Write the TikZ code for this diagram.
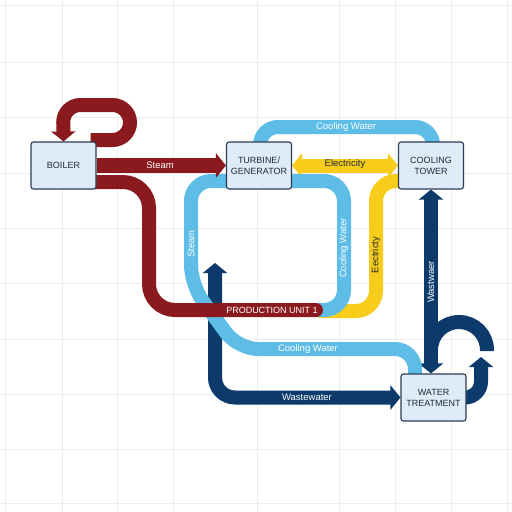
\documentclass[tikz,border=0pt]{standalone}
\usepackage{fontspec}
\setmainfont{Liberation Sans}
\usetikzlibrary{arrows.meta,calc}
\definecolor{pred}{HTML}{8A1A1E}
\definecolor{pblue}{HTML}{5DBDE6}
\definecolor{pyel}{HTML}{F8CC1B}
\definecolor{pnavy}{HTML}{0C3B6B}
\definecolor{boxfill}{HTML}{DFEBF7}
\definecolor{boxline}{HTML}{2A3D55}
\definecolor{gridc}{HTML}{ECECEC}
\definecolor{txtdark}{HTML}{1E2B3A}
\pgfdeclarelayer{gridlayer}
\pgfdeclarelayer{pipes}
\pgfsetlayers{gridlayer,pipes,main}
\begin{document}
\begin{tikzpicture}[x=1pt,y=-1pt,
  pipe/.style={line width=14pt,rounded corners=#1},
  pipe/.default=20pt,
  headtip/.style={-{Triangle[length=10pt,width=24pt]}},
  bothtip/.style={{Triangle[length=10pt,width=24pt]}-{Triangle[length=10pt,width=24pt]}},
  unitbox/.style={draw=boxline,fill=boxfill,line width=1.1pt,rounded corners=2.5pt,
    minimum width=65pt,minimum height=47pt,inner sep=1pt,align=center,
    text=txtdark,font=\fontsize{9}{11}\selectfont},
  wlabel/.style={text=white,inner sep=1pt,font=\fontsize{9.5}{11}\selectfont},
  dlabel/.style={text=txtdark,inner sep=1pt,font=\fontsize{9.5}{11}\selectfont}]
\useasboundingbox (0,0) rectangle (512,512);

% boxes
\node[unitbox] (boiler) at (63.5,165.5) {BOILER};
\node[unitbox] (turbine) at (259,165.5) {TURBINE/\\GENERATOR};
\node[unitbox] (tower) at (431,165.5) {COOLING\\TOWER};
\node[unitbox] (wt) at (433.5,397.5) {WATER\\TREATMENT};

\begin{pgfonlayer}{gridlayer}
\fill[white] (0,0) rectangle (512,512);
\foreach \gx in {5,62,117,173,257,339,395,451,507}
  \draw[gridc,line width=0.8pt] (\gx,0) -- (\gx,512);
\foreach \gy in {5,62,117,173,228,283,339,394,449,503}
  \draw[gridc,line width=0.8pt] (0,\gy) -- (512,\gy);
\end{pgfonlayer}

\begin{pgfonlayer}{pipes}
% navy pipes
\coordinate (wsrc) at (215,263);
\draw[pnavy,pipe,bothtip] (wsrc) -- (wt.west -| wsrc) -- (wt.west);
\node[wlabel] (lwaste) at (307,397.5) {Wastewater};
\draw[pnavy,line width=14pt,bothtip] (tower.south) -- (tower.south |- wt.north);
\node[wlabel,rotate=90] (lwastv) at (431,282) {Wastwaer};
\coordinate (humpa) at (431,348);
\coordinate (humpb) at (487,351);
\draw[pnavy,pipe=28pt] (humpa) -- (431,322) -- (487,322) -- (humpb);
\coordinate (retup) at (481,357);
\draw[pnavy,pipe=16pt,headtip] ($(wt.east)+(-6,0)$) -- (wt.east -| retup) -- (retup);

% yellow pipes
\draw[pyel,line width=14pt,bothtip] (turbine.east) -- (tower.west);
\node[dlabel] (lelec) at (345,164.5) {Electricity};
\coordinate (yend) at (318,311);
\draw[pyel,pipe] ($(tower.west)+(6,15.5)$) -- (376,181) -- (376,311) -- (yend);
\node[dlabel,rotate=90] (lelecv) at (376,255) {Eectricty};

% light blue pipes
\draw[pblue,pipe=18pt] ($(turbine.north)+(1,5)$) -- (260,127) -- (433,127) -- ($(tower.north)+(2,5)$);
\node[wlabel] (lcwtop) at (346,127) {Cooling Water};
\coordinate (bstart) at (316,310);
\draw[pblue,pipe] (bstart) -- (344,310) -- (344,181) -- (191,181) -- (191,285)
   -- (238,349) -- (415,349) -- ($(wt.north -| 415,0)+(0,6)$);
\node[wlabel,rotate=90] (lsteamv) at (191,244) {Steam};
\node[wlabel,rotate=90] (lcwv) at (344,248) {Cooling Water};
\node[wlabel] (lcwlow) at (308,349) {Cooling Water};

% red pipes
\draw[pred,line width=15pt,headtip] (boiler.east) -- (turbine.west);
\node[wlabel] (lsteam) at (160,165) {Steam};
\draw[pred,pipe=17.5pt,headtip] ($(boiler.east)+(-6,-25.5)$) -- (130,140) -- (130,105) -- (63,105) -- (boiler.north);
\coordinate (pend) at (316,310);
\draw[pred,pipe=26pt,line cap=round] ($(boiler.east)+(-6,16.5)$) -- (149,182) -- (149,310) -- (pend);
\node[wlabel,font=\fontsize{9}{11}\selectfont] (lprod) at (272,310) {PRODUCTION UNIT 1};
\end{pgfonlayer}
\end{tikzpicture}
\end{document}
